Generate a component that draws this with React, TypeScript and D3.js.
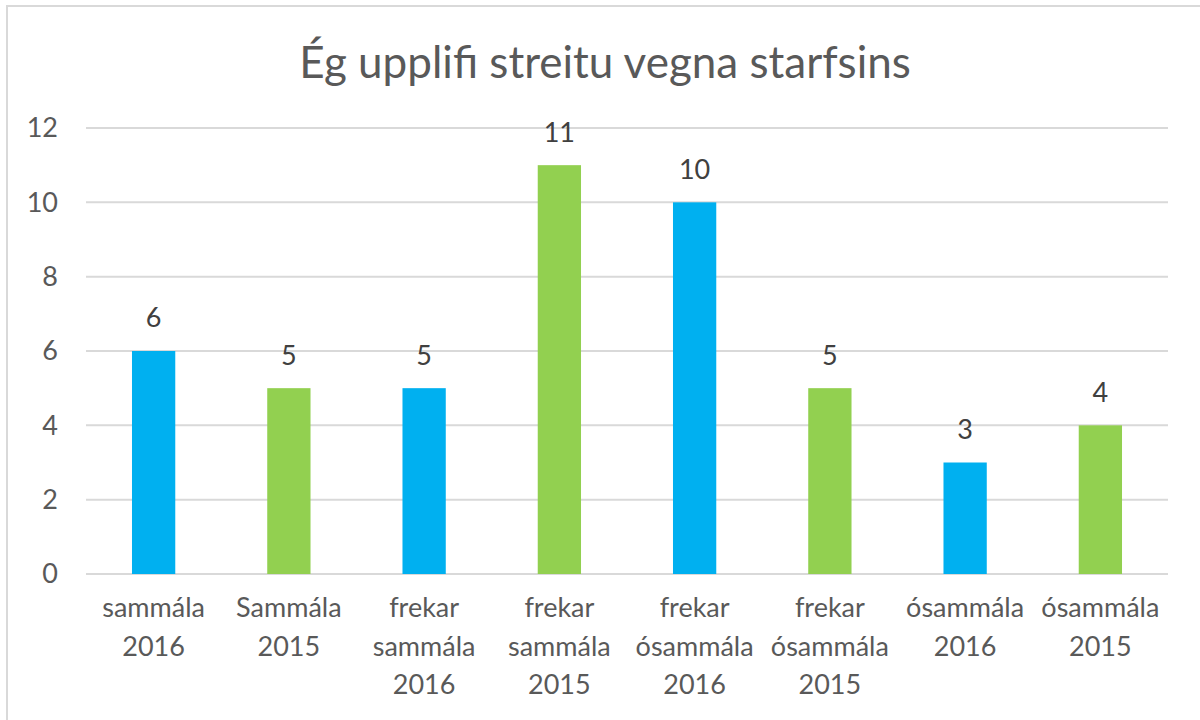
import React, { useEffect, useRef } from 'react';
import * as d3 from 'd3';

const title = 'Ég upplifi streitu vegna starfsins';
const categories = [
  ['sammála', '2016'],
  ['Sammála', '2015'],
  ['frekar', 'sammála', '2016'],
  ['frekar', 'sammála', '2015'],
  ['frekar', 'ósammála', '2016'],
  ['frekar', 'ósammála', '2015'],
  ['ósammála', '2016'],
  ['ósammála', '2015'],
];
const values = [6, 5, 5, 11, 10, 5, 3, 4];
const yTicks = [0, 2, 4, 6, 8, 10, 12];
const barColors = ['#00B0F0', '#92D050'];

const W = 1200;
const H = 720;
const FONT = 'Lato, "Noto Sans", sans-serif';

const App: React.FC = () => {
  const svgRef = useRef<SVGSVGElement>(null);

  useEffect(() => {
    document.body.style.margin = '0';
    if (!svgRef.current) return;
    const svg = d3.select(svgRef.current);
    svg.selectAll('*').remove();

    const margin = { left: 86, right: 32, top: 128, bottom: 146 };

    // chart frame
    svg.append('rect')
      .attr('x', 7).attr('y', 6)
      .attr('width', W + 10).attr('height', H + 10)
      .attr('fill', '#fff')
      .attr('stroke', '#d9d9d9')
      .attr('stroke-width', 2);

    svg.append('text')
      .attr('x', 605).attr('y', 63)
      .attr('dy', '0.35em')
      .attr('text-anchor', 'middle')
      .style('font-family', FONT)
      .style('font-size', '44px')
      .attr('fill', '#595959')
      .text(title);

    const x = d3.scaleBand<number>()
      .domain(d3.range(values.length))
      .range([margin.left, W - margin.right])
      .paddingInner(0.68)
      .paddingOuter(0.34);

    const y = d3.scaleLinear()
      .domain([0, 12])
      .range([H - margin.bottom, margin.top]);

    // gridlines
    svg.append('g')
      .selectAll('line')
      .data(yTicks)
      .join('line')
      .attr('x1', margin.left)
      .attr('x2', W - margin.right)
      .attr('y1', d => y(d))
      .attr('y2', d => y(d))
      .attr('stroke', '#d9d9d9')
      .attr('stroke-width', 2);

    // y tick labels
    svg.append('g')
      .selectAll('text')
      .data(yTicks)
      .join('text')
      .attr('x', 58)
      .attr('y', d => y(d))
      .attr('dy', '0.35em')
      .attr('text-anchor', 'end')
      .style('font-family', FONT)
      .style('font-size', '27px')
      .attr('fill', '#595959')
      .text(d => d);

    // bars
    svg.append('g')
      .selectAll('rect')
      .data(values)
      .join('rect')
      .attr('x', (_, i) => x(i)!)
      .attr('width', x.bandwidth())
      .attr('y', d => y(d))
      .attr('height', d => y(0) - y(d))
      .attr('fill', (_, i) => barColors[i % 2]);

    // value labels
    svg.append('g')
      .selectAll('text')
      .data(values)
      .join('text')
      .attr('x', (_, i) => x(i)! + x.bandwidth() / 2)
      .attr('y', d => y(d) - 33)
      .attr('dy', '0.35em')
      .attr('text-anchor', 'middle')
      .style('font-family', FONT)
      .style('font-size', '27px')
      .attr('fill', '#404040')
      .text(d => d);

    // category labels
    const step = x.step();
    svg.append('g')
      .selectAll('text')
      .data(categories)
      .join('text')
      .attr('x', (_, i) => margin.left + step * (i + 0.5))
      .attr('y', 608)
      .attr('text-anchor', 'middle')
      .style('font-family', FONT)
      .style('font-size', '27px')
      .attr('fill', '#595959')
      .each(function (lines) {
        const t = d3.select(this);
        const cx = t.attr('x');
        lines.forEach((ln, j) => {
          t.append('tspan').attr('x', cx).attr('dy', j === 0 ? '0.35em' : '38.5px').text(ln);
        });
      });
  }, []);

  return <svg ref={svgRef} width={W} height={H} style={{ display: 'block' }} />;
};

export default App;
